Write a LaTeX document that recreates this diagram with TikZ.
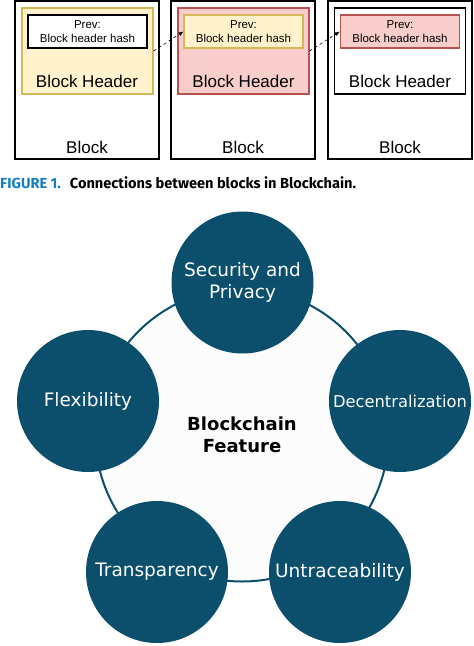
\documentclass[tikz,border=0pt]{standalone}
\usepackage{fontspec}
\setmainfont{Liberation Sans}
\newfontfamily\capfont{Fira Sans}
\newfontfamily\featfont{DejaVu Sans}
\usetikzlibrary{arrows.meta}

\definecolor{hdryellow}{HTML}{FFF2CC}
\definecolor{hdrgold}{HTML}{D6B656}
\definecolor{hdrpink}{HTML}{F8CECC}
\definecolor{hdrred}{HTML}{B85450}
\definecolor{capblue}{RGB}{20,125,195}
\definecolor{featteal}{RGB}{12,79,108}

\begin{document}
\begin{tikzpicture}[x=1pt, y=-1pt,
  blockbox/.style={draw, line width=1.6pt, minimum width=144pt, minimum height=158pt, inner sep=0pt},
  hdrbox/.style={line width=1.2pt, minimum width=131pt, minimum height=86pt, inner sep=0pt},
  prevbox/.style={line width=1.2pt, minimum width=119pt, minimum height=33pt, inner sep=0pt,
    align=center, font=\fontsize{11.5}{14}\selectfont},
  bigtext/.style={font=\fontsize{17}{20}\selectfont, inner sep=0pt},
  linkarrow/.style={dashed, line width=0.6pt, -{Latex[length=5pt, width=4pt]}},
  feature/.style={circle, fill=featteal, minimum size=142pt, inner sep=0pt, text=white,
    align=center, font=\featfont\fontsize{18.5}{22.5}\selectfont},
  ringbox/.style={circle, draw=featteal, line width=2pt, fill=black!1, minimum size=293pt,
    align=center, font=\featfont\bfseries\fontsize{18}{22}\selectfont}]
\useasboundingbox (0,0) rectangle (474,646);

% blocks
\node (b1) at (87, 80) [blockbox] {};
\node (b2) at (243, 80) [blockbox] {};
\node (b3) at (400, 80) [blockbox] {};

\node (h1) at (87.5, 51) [hdrbox, draw=hdrgold, fill=hdryellow] {};
\node (h2) at (243.5, 51) [hdrbox, draw=hdrred, fill=hdrpink] {};
\node (h3) at (400, 51) [hdrbox, draw=black, fill=white] {};

\node (p1) at (87.5, 31.5) [prevbox, draw=black, line width=1.6pt, fill=white] {Prev:\\Block header hash};
\node (p2) at (243.5, 31.5) [prevbox, draw=hdrgold, fill=hdryellow] {Prev:\\Block header hash};
\node (p3) at (400, 31.5) [prevbox, draw=hdrred, fill=hdrpink] {Prev:\\Block header hash};

\node (t1) at (87, 81) [bigtext] {Block Header};
\node (t2) at (243.5, 81) [bigtext] {Block Header};
\node (t3) at (400, 81) [bigtext] {Block Header};

\node (l1) at (87, 147) [bigtext] {Block};
\node (l2) at (243, 147) [bigtext] {Block};
\node (l3) at (400, 147) [bigtext] {Block};

\draw[linkarrow] (h1.east) -- (p2.west);
\draw[linkarrow] (h2.east) -- (p3.west);

\node (cap) at (0, 183) [anchor=west, inner sep=0pt, font=\capfont\bfseries\fontsize{14.6}{17}\selectfont]
  {\textcolor{capblue}{FIGURE 1.}\hspace{9pt}Connections between blocks in Blockchain.};

% features
\node (ring) at (242, 435) [ringbox] {Blockchain\\Feature};

\node (sec) at (242.5, 282.5) [feature] {Security and\\Privacy};
\node (dec) at (400, 401) [feature, font=\featfont\fontsize{16.3}{20}\selectfont] {Decentralization};
\node (unt) at (340, 572) [feature] {Untraceability};
\node (tra) at (157, 572) [feature] {Transparency};
\node (fle) at (88, 401) [feature] {Flexibility};

\end{tikzpicture}
\end{document}
